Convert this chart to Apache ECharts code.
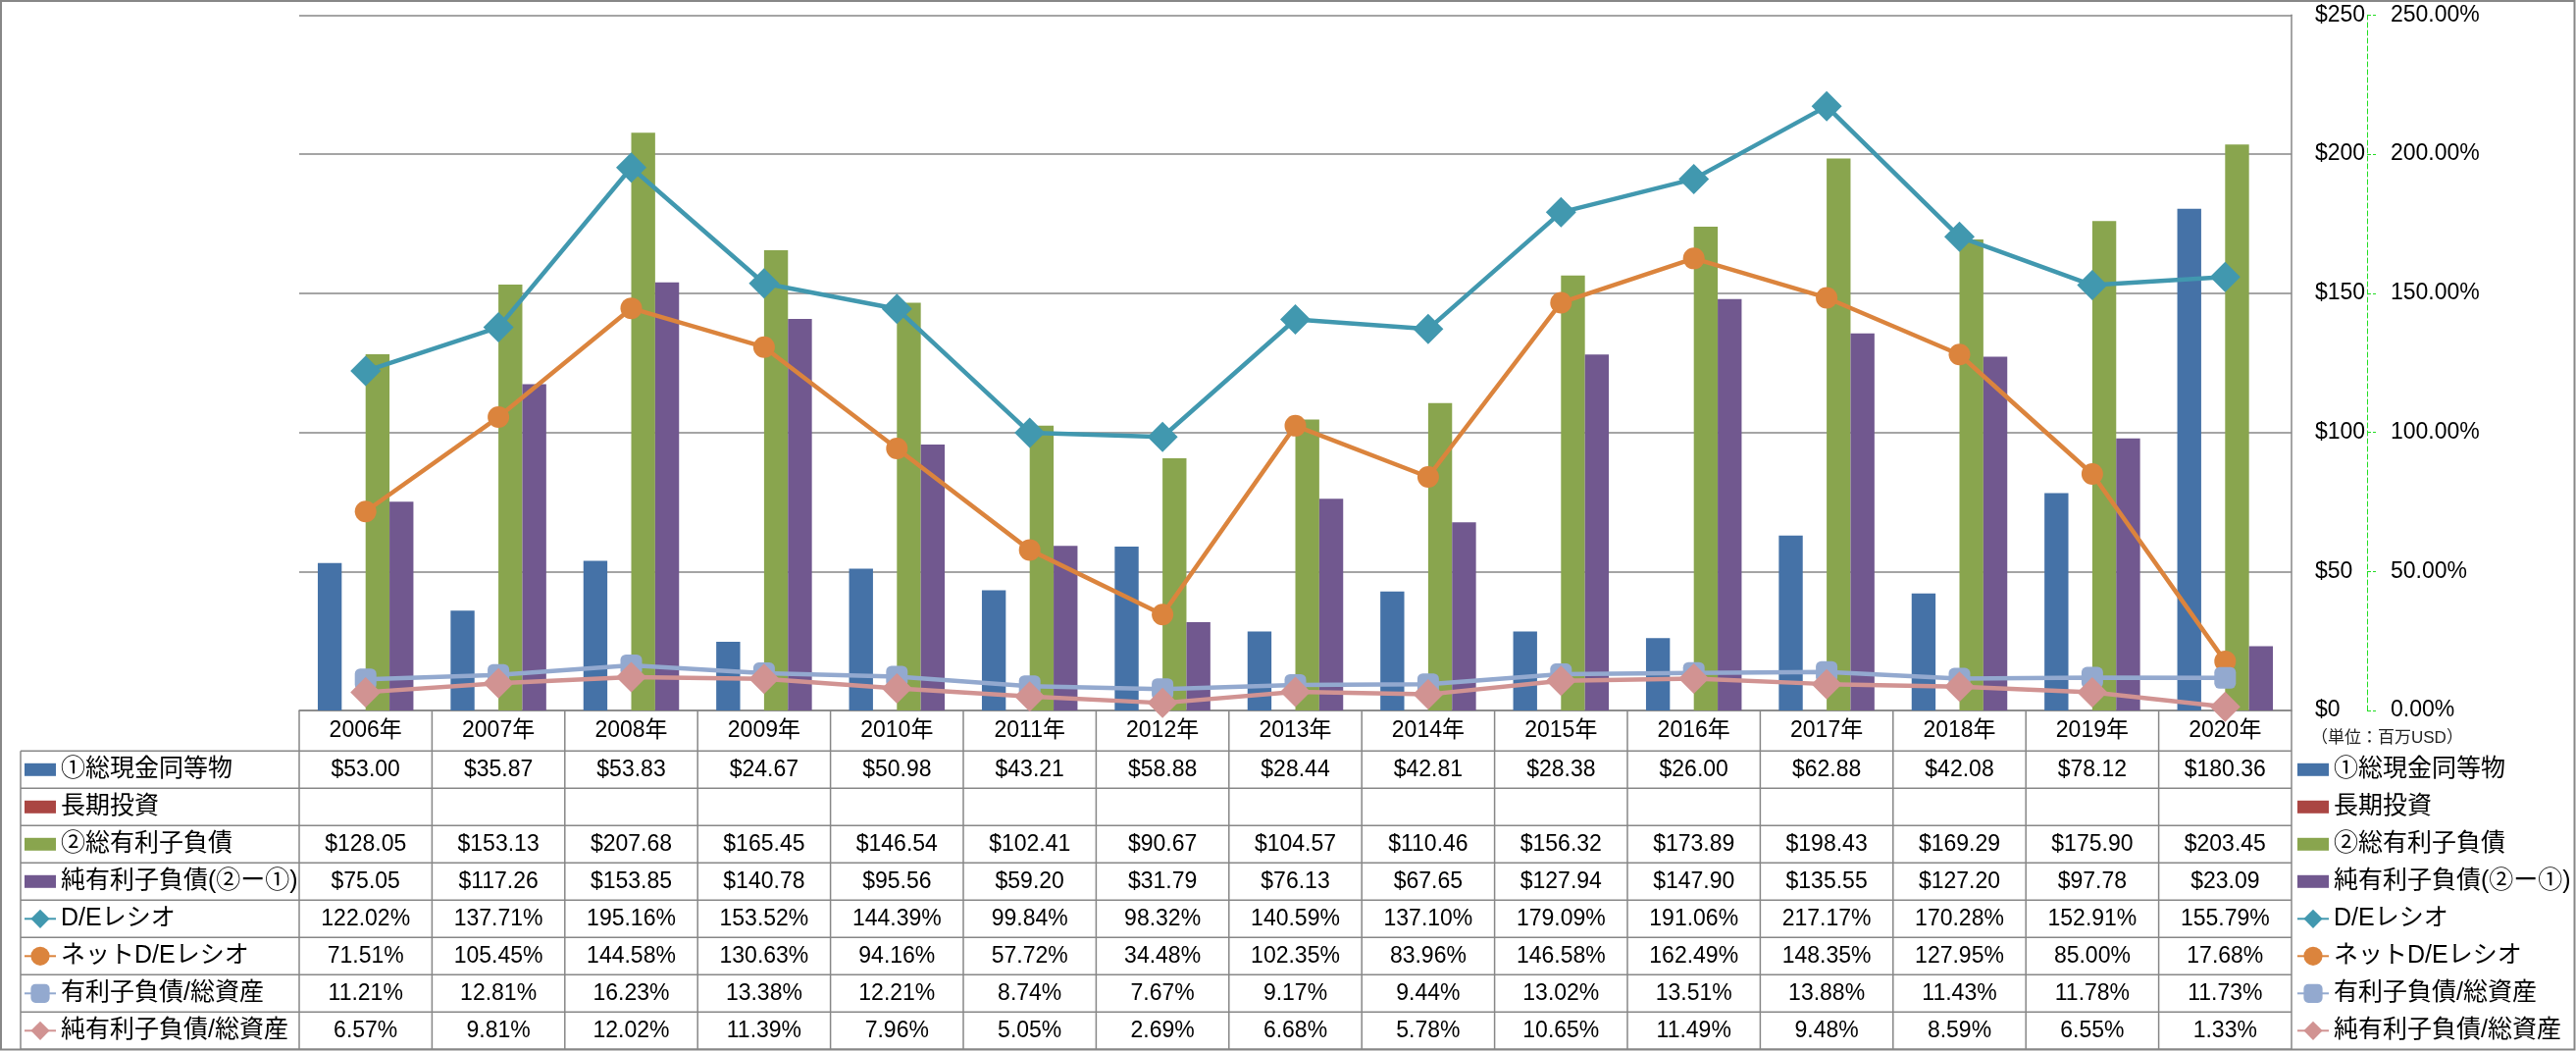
<!DOCTYPE html>
<html>
<head>
<meta charset="utf-8">
<script src="https://cdn.jsdelivr.net/npm/echarts@6/dist/echarts.min.js"></script>
<style>
html,body{margin:0;padding:0;background:#fff;}
#chart{width:2626px;height:1071px;}
</style>
</head>
<body>
<div id="chart"></div>
<script>
// ---- data ----
const years = ['2006年','2007年','2008年','2009年','2010年','2011年','2012年','2013年','2014年','2015年','2016年','2017年','2018年','2019年','2020年'];
const cash = [53.00, 35.87, 53.83, 24.67, 50.98, 43.21, 58.88, 28.44, 42.81, 28.38, 26.00, 62.88, 42.08, 78.12, 180.36];
const longTermInvest = [null, null, null, null, null, null, null, null, null, null, null, null, null, null, null];
const totalDebt = [128.05, 153.13, 207.68, 165.45, 146.54, 102.41, 90.67, 104.57, 110.46, 156.32, 173.89, 198.43, 169.29, 175.90, 203.45];
const netDebt = [75.05, 117.26, 153.85, 140.78, 95.56, 59.20, 31.79, 76.13, 67.65, 127.94, 147.90, 135.55, 127.20, 97.78, 23.09];
const deRatio = [122.02, 137.71, 195.16, 153.52, 144.39, 99.84, 98.32, 140.59, 137.10, 179.09, 191.06, 217.17, 170.28, 152.91, 155.79];
const netDeRatio = [71.51, 105.45, 144.58, 130.63, 94.16, 57.72, 34.48, 102.35, 83.96, 146.58, 162.49, 148.35, 127.95, 85.00, 17.68];
const debtToAssets = [11.21, 12.81, 16.23, 13.38, 12.21, 8.74, 7.67, 9.17, 9.44, 13.02, 13.51, 13.88, 11.43, 11.78, 11.73];
const netDebtToAssets = [6.57, 9.81, 12.02, 11.39, 7.96, 5.05, 2.69, 6.68, 5.78, 10.65, 11.49, 9.48, 8.59, 6.55, 1.33];
const moneyTicks = [0, 50, 100, 150, 200, 250];
const pctTicks = [0, 50, 100, 150, 200, 250];
const unitNote = '（単位：百万USD）';

const names = ['①総現金同等物','長期投資','②総有利子負債','純有利子負債(②ー①)','D/Eレシオ','ネットD/Eレシオ','有利子負債/総資産','純有利子負債/総資産'];
const colors = ['#4572A7','#AA4643','#89A54E','#71588F','#4198AF','#DB843D','#93A9CF','#D19392'];

const FONT = "'Liberation Sans','Noto Sans CJK JP',sans-serif";
const GRID = '#878787';

const chart = echarts.init(document.getElementById('chart'), null, {renderer:'canvas'});

const barPath = 'path://M0 0H32V13H0Z';
const legendData = names.map((n, i) => i < 4 ? {name: n, icon: barPath} : {name: n});

function legendCfg(left) {
  return {
    orient: 'vertical', left: left, top: 765.3, padding: 0,
    itemWidth: 32, itemHeight: 24, itemGap: 0, selectedMode: false,
    symbolKeepAspect: true,
    textStyle: {fontSize: 25, lineHeight: 38, fontFamily: FONT, color: '#000'},
    data: legendData
  };
}

function barSeries(i, data) {
  return {
    name: names[i], type: 'bar', yAxisIndex: 0, data: data,
    barGap: '0%', barCategoryGap: '28%',
    itemStyle: {color: colors[i]}
  };
}
function lineSeries(i, data, symbol, size) {
  return {
    name: names[i], type: 'line', yAxisIndex: 1, data: data,
    symbol: symbol, symbolSize: size, showSymbol: true, showAllSymbol: true,
    lineStyle: {color: colors[i], width: 4.5},
    itemStyle: {color: colors[i]},
    z: 3 + i
  };
}

const option = {
  animation: false,
  backgroundColor: '#fff',
  grid: {left: 305, right: 290, top: 15.3, bottom: 347, containLabel: false},
  legend: [legendCfg(2341), legendCfg(24)],
  xAxis: {
    type: 'category', data: years,
    axisLine: {show: true, lineStyle: {color: GRID, width: 1.5}},
    axisTick: {show: false},
    axisLabel: {margin: 0, lineHeight: 41, fontSize: 23, fontFamily: FONT, color: '#000', interval: 0}
  },
  yAxis: [
    {
      type: 'value', position: 'right', min: moneyTicks[0], max: moneyTicks[moneyTicks.length-1], interval: 50,
      axisLine: {show: true, lineStyle: {color: GRID, width: 1.5}},
      axisTick: {show: false},
      splitLine: {show: true, lineStyle: {color: GRID, width: 1.5}},
      axisLabel: {margin: 24, fontSize: 23, fontFamily: FONT, color: '#000', align: 'left', formatter: v => '$' + v}
    },
    {
      type: 'value', position: 'right', offset: 77, min: pctTicks[0], max: pctTicks[pctTicks.length-1], interval: 50,
      axisLine: {show: true, lineStyle: {color: '#22dd22', width: 1, type: [5, 3]}},
      axisTick: {show: true, inside: false, length: 9, lineStyle: {color: '#22dd22', width: 1, type: [4, 2]}},
      splitLine: {show: false},
      axisLabel: {margin: 24, fontSize: 23, fontFamily: FONT, color: '#000', align: 'left', formatter: v => v.toFixed(2) + '%'}
    }
  ],
  series: [
    barSeries(0, cash),
    barSeries(1, longTermInvest),
    barSeries(2, totalDebt),
    barSeries(3, netDebt),
    lineSeries(4, deRatio, 'diamond', 31),
    lineSeries(5, netDeRatio, 'circle', 22),
    lineSeries(6, debtToAssets, 'roundRect', 22),
    lineSeries(7, netDebtToAssets, 'diamond', 31)
  ]
};
chart.setOption(option);

// ---- data table drawn beneath the axis, aligned with the category scale ----
const rows = [
  {data: cash, fmt: v => '$' + v.toFixed(2)},
  {data: longTermInvest, fmt: v => ''},
  {data: totalDebt, fmt: v => '$' + v.toFixed(2)},
  {data: netDebt, fmt: v => '$' + v.toFixed(2)},
  {data: deRatio, fmt: v => v.toFixed(2) + '%'},
  {data: netDeRatio, fmt: v => v.toFixed(2) + '%'},
  {data: debtToAssets, fmt: v => v.toFixed(2) + '%'},
  {data: netDebtToAssets, fmt: v => v.toFixed(2) + '%'}
];
const centers = years.map((y, i) => chart.convertToPixel({xAxisIndex: 0}, i));
const catW = centers[1] - centers[0];
const yBase = chart.convertToPixel({yAxisIndex: 0}, 0);
const headerH = 41.3, rowH = 38;
const tableLeft = 21;
const colLeft = centers[0] - catW / 2;
const colRight = centers[centers.length - 1] + catW / 2;
const bodyTop = yBase + headerH;
const bodyBottom = bodyTop + rows.length * rowH;

const gfx = [];
const lineStyle = {stroke: GRID, lineWidth: 1.5};
// outer chart border
gfx.push({type: 'rect', shape: {x: 1, y: 1, width: 2623.5, height: 1068.5}, style: {fill: 'none', stroke: GRID, lineWidth: 2}, silent: true, z: 0});
// horizontal lines
for (let r = 0; r <= rows.length; r++) {
  const y = bodyTop + r * rowH;
  gfx.push({type: 'line', shape: {x1: tableLeft, y1: y, x2: colRight, y2: y}, style: lineStyle, silent: true});
}
// vertical lines
gfx.push({type: 'line', shape: {x1: tableLeft, y1: bodyTop, x2: tableLeft, y2: bodyBottom}, style: lineStyle, silent: true});
for (let c = 0; c <= years.length; c++) {
  const x = colLeft + c * catW;
  gfx.push({type: 'line', shape: {x1: x, y1: yBase, x2: x, y2: bodyBottom}, style: lineStyle, silent: true});
}
// cell texts
rows.forEach((row, r) => {
  const yc = bodyTop + r * rowH + rowH / 2;
  row.data.forEach((v, i) => {
    if (v === null || v === undefined) return;
    gfx.push({type: 'text', x: centers[i], y: yc, silent: true,
      style: {text: row.fmt(v), fill: '#000', fontSize: 23, fontFamily: FONT, align: 'center', verticalAlign: 'middle'}});
  });
});
// unit note
gfx.push({type: 'text', x: 2356, y: 752, silent: true,
  style: {text: unitNote, fill: '#222', fontSize: 17, fontFamily: FONT, align: 'left', verticalAlign: 'middle'}});

chart.setOption({graphic: gfx});
</script>
</body>
</html>
